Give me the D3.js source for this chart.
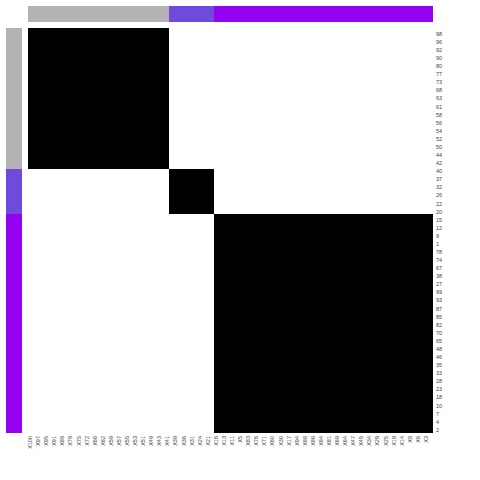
<!DOCTYPE html>
<html><head><meta charset="utf-8">
<script src="https://cdn.jsdelivr.net/npm/d3@7"></script>
<style>body{margin:0;background:#fff}</style>
</head><body>
<script>
// Item order (same for rows and columns), grouped by cluster
const clusterA = [100,98,97,96,95,92,91,90,89,80,79,77,75,73,72,68,66,63,62,61,59,58,57,56,55,54,53,52,51,50,49,44,43,42,41];
const clusterB = [40,39,37,36,32,31,26,24,22,21,20];
const clusterC = [16,15,13,12,11,9,5,1,83,78,76,74,71,67,60,38,30,27,17,99,94,93,88,87,86,85,84,82,81,70,69,65,64,48,47,46,45,35,34,33,29,28,25,23,19,18,14,10,8,7,6,4,3,2];
const clusterNames = ["A","B","C"];
const clusterColors = ["#B3B3B3","#7049DD","#9400F0"];

const items = [];
[clusterA, clusterB, clusterC].forEach((arr, g) => arr.forEach(id => items.push({id, g})));
const rowLabels = items.map(d => String(d.id));
const colLabels = items.map(d => "X" + d.id);
// matrix: 1 where row and column belong to same cluster
const cells = [];
items.forEach((r, i) => items.forEach((c, j) => cells.push({i, j, v: r.g === c.g ? 1 : 0})));

const W = 480, H = 480;
const svg = d3.select("body").append("svg").attr("width", W).attr("height", H);
const idx = d3.range(items.length);
const x = d3.scaleBand().domain(idx).range([28, 432]);
const y = d3.scaleBand().domain(idx).range([28, 432]);
const fill = d3.scaleOrdinal().domain([0,1]).range(["#FFFFFF","#000000"]);
const gcol = d3.scaleOrdinal().domain([0,1,2]).range(clusterColors);

svg.append("g").attr("shape-rendering", "crispEdges").selectAll("rect").data(cells).join("rect")
  .attr("x", d => x(d.j)).attr("y", d => y(d.i))
  .attr("width", x.bandwidth() + 0.5).attr("height", y.bandwidth() + 0.5)
  .attr("fill", d => fill(d.v));

// top colour bar
svg.append("g").attr("shape-rendering", "crispEdges").selectAll("rect").data(items).join("rect")
  .attr("x", (d, j) => x(j)).attr("y", 6)
  .attr("width", x.bandwidth() + 0.5).attr("height", 16)
  .attr("fill", d => gcol(d.g));
// left colour bar
svg.append("g").attr("shape-rendering", "crispEdges").selectAll("rect").data(items).join("rect")
  .attr("x", 6).attr("y", (d, i) => y(i))
  .attr("width", 16).attr("height", y.bandwidth() + 0.5)
  .attr("fill", d => gcol(d.g));

// row labels (overlapping ones skipped: every other, from the bottom)
const n = items.length;
const rowAxis = d3.axisRight(y).tickSize(0).tickPadding(4)
  .tickValues(idx.filter(i => (n - 1 - i) % 2 === 0))
  .tickFormat(i => rowLabels[i]);
svg.append("g").attr("transform", "translate(432,0)").call(rowAxis)
  .call(g => g.select(".domain").remove())
  .selectAll("text").attr("font-family", "Liberation Sans, Arial, sans-serif")
  .attr("font-size", 5.5).attr("fill", "#444");

// column labels (every other, from the left)
const colAxis = d3.axisBottom(x).tickSize(0).tickPadding(0)
  .tickValues(idx.filter(j => j % 2 === 0))
  .tickFormat(j => colLabels[j]);
svg.append("g").attr("transform", "translate(0,432)").call(colAxis)
  .call(g => g.select(".domain").remove())
  .selectAll("text")
  .attr("font-family", "Liberation Sans, Arial, sans-serif")
  .attr("font-size", 5.5).attr("fill", "#444")
  .attr("text-anchor", "end").attr("dy", null).attr("y", 0)
  .attr("transform", "translate(2,4) rotate(-90)");
</script>
</body></html>
